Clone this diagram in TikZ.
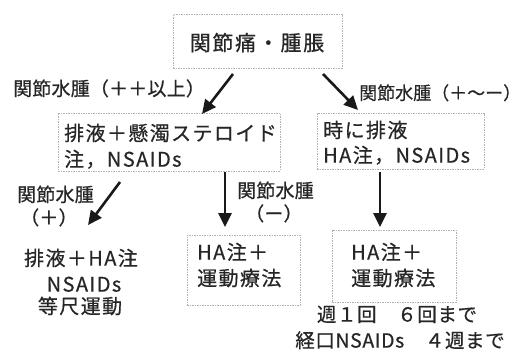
\documentclass[tikz,border=0pt]{standalone}
\usepackage{fontspec}
\setmainfont{Noto Sans CJK JP}[FakeBold=0.6]
\usetikzlibrary{arrows.meta}
\begin{document}
\begin{tikzpicture}[x=1pt,y=-1pt,
  txt/.style={inner sep=0pt, text height=17.6pt, text depth=2.4pt, text=black!85,
    font=\fontsize{20}{26}\selectfont\addfontfeature{LetterSpace=7}},
  bigtxt/.style={txt, font=\fontsize{21}{26}\selectfont\addfontfeature{LetterSpace=8}},
  note/.style={txt, font=\fontsize{19.5}{26}\selectfont\addfontfeature{LetterSpace=3}},
  lbl/.style={txt, font=\fontsize{19}{24}\selectfont\addfontfeature{LetterSpace=1}},
  smlbl/.style={txt, font=\fontsize{18}{24}\selectfont},
  boxy/.style={draw=black!30, line width=0.6pt, dash pattern=on 1.5pt off 1pt, inner sep=0pt},
  arr/.style={line width=2.6pt, draw=black!90, -{Triangle[length=14pt,width=13pt]}}
]
\useasboundingbox (0,0) rectangle (528,353);

% boxes
\node[boxy, minimum width=169pt, minimum height=54pt] (topbox) at (257.5,41) {};
\node[boxy, minimum width=222pt, minimum height=58pt] (mlbox) at (169,142) {};
\node[boxy, minimum width=167pt, minimum height=56pt] (mrbox) at (400.5,141) {};
\node[boxy, minimum width=113pt, minimum height=70pt] (bmbox) at (243.5,270) {};
\node[boxy, minimum width=124pt, minimum height=72pt] (brbox) at (394,266) {};

% texts
\node[bigtxt] (toptxt) at (257,43) {関節痛・腫脹};
\node[txt, anchor=west] (ml1) at (64,133) {排液＋懸濁ステロイド};
\node[txt, anchor=west] (ml2) at (64,159) {注，NSAIDs};
\node[txt, anchor=west] (mr1) at (323,130) {時に排液};
\node[txt, anchor=west] (mr2) at (323,155) {HA注，NSAIDs};
\node[txt, anchor=west] (bm1) at (197,252) {HA注＋};
\node[txt, anchor=west] (bm2) at (197,278) {運動療法};
\node[txt, anchor=west] (br1) at (351,252) {HA注＋};
\node[txt, anchor=west] (br2) at (351,278) {運動療法};
\node[txt] (bl1) at (81,258) {排液＋HA注};
\node[txt] (bl2) at (84,284) {NSAIDs};
\node[txt] (bl3) at (80,306) {等尺運動};
\node[note] (n1) at (397,314) {週１回　６回まで};
\node[note] (n2) at (400,340) {経口NSAIDs　４週まで};

% labels
\node[lbl, anchor=west] (l1) at (13,88) {関節水腫（＋＋以上）};
\node[smlbl, anchor=west] (l2) at (359,92) {関節水腫（＋〜ー）};
\node[lbl, anchor=west] (l3a) at (17,194) {関節水腫};
\node[lbl, anchor=west] (l3b) at (20,217) {（＋）};
\node[lbl, anchor=west] (l4a) at (237,190) {関節水腫};
\node[lbl, anchor=west] (l4b) at (245,213) {（ー）};

% arrow end points
\coordinate (a1s) at (233,74);  \coordinate (a1e) at (202,114);
\coordinate (a2s) at (323,74);  \coordinate (a2e) at (358,110);
\coordinate (a3s) at (120,182); \coordinate (a3e) at (88,225);
\coordinate (a4s) at (225,172); \coordinate (a4e) at (225,227);
\coordinate (a5s) at (380,172); \coordinate (a5e) at (380,227);

\draw[arr] (a1s) -- (a1e);
\draw[arr] (a2s) -- (a2e);
\draw[arr] (a3s) -- (a3e);
\draw[arr] (a4s) -- (a4e);
\draw[arr] (a5s) -- (a5e);
\end{tikzpicture}
\end{document}
